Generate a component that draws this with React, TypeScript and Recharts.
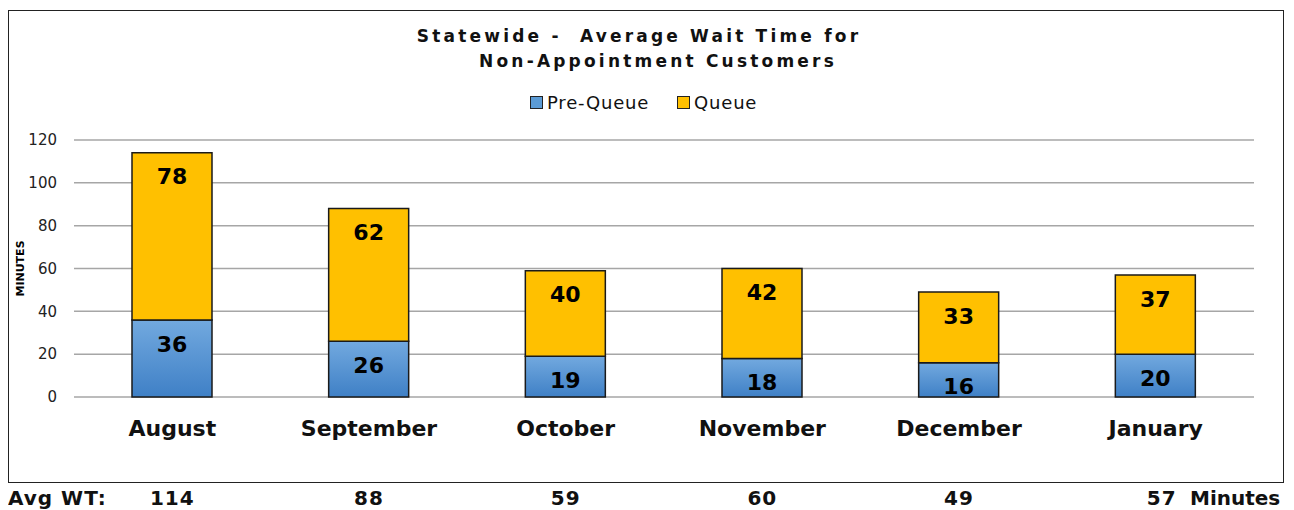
import { BarChart, Bar, XAxis, YAxis, CartesianGrid, LabelList } from 'recharts'

const months = ['August', 'September', 'October', 'November', 'December', 'January']
const preQueue = [36, 26, 19, 18, 16, 20]
const queue = [78, 62, 40, 42, 33, 37]
const yTicks = [0, 20, 40, 60, 80, 100, 120]

const FONT = '"DejaVu Sans", Verdana, sans-serif'

// chart geometry (page coords)
const BOX_LEFT = 8
const BOX_TOP = 10
const CHART_W = 1274
const CHART_H = 471
const PLOT_LEFT = 74
const PLOT_RIGHT = 1254
const AVG_TOP = 488

export default function App() {
    const chartData = months.map((m, i) => ({
        name: m,
        pre: preQueue[i],
        queue: queue[i],
        total: preQueue[i] + queue[i],
    }))
    const band = (PLOT_RIGHT - PLOT_LEFT) / months.length

    const labelStyle = { fontFamily: FONT, fontSize: 22, fontWeight: 'bold', fill: '#000' }
    const titleStyle = {
        position: 'absolute' as const,
        transform: 'translateX(-50%)',
        whiteSpace: 'pre' as const,
        fontFamily: FONT,
        fontWeight: 'bold',
        fontSize: 17,
        letterSpacing: 3.2,
        color: '#111',
    }
    const avgStyle = {
        position: 'absolute' as const,
        top: AVG_TOP,
        fontFamily: FONT,
        fontWeight: 'bold',
        fontSize: 20,
        lineHeight: '20px',
        color: '#111',
        whiteSpace: 'pre' as const,
    }

    return (
        <div style={{ position: 'relative', width: 1286, height: 510, marginTop: -8, marginLeft: -8 }}>
            <div
                style={{
                    position: 'absolute',
                    left: BOX_LEFT,
                    top: BOX_TOP,
                    width: CHART_W,
                    height: CHART_H,
                    border: '1.5px solid #222',
                    background: '#fff',
                }}
            >
                <BarChart
                    width={CHART_W}
                    height={CHART_H}
                    data={chartData}
                    margin={{ top: 129, right: 29, bottom: 0, left: 0 }}
                >
                    <defs>
                        <linearGradient id="blueGrad" x1="0" y1="0" x2="0" y2="1">
                            <stop offset="0%" stopColor="#72a9df" />
                            <stop offset="100%" stopColor="#3f80c6" />
                        </linearGradient>
                    </defs>
                    <CartesianGrid vertical={false} stroke="#a6a6a6" strokeWidth={1.5} />
                    <XAxis
                        dataKey="name"
                        height={85}
                        axisLine={false}
                        tickLine={false}
                        tickSize={0}
                        tickMargin={23}
                        tick={{ fontFamily: FONT, fontSize: 22, fontWeight: 'bold', fill: '#111' }}
                    />
                    <YAxis
                        width={65}
                        domain={[0, 120]}
                        ticks={yTicks}
                        axisLine={false}
                        tickLine={false}
                        tickSize={0}
                        tickMargin={17}
                        tick={{ fontFamily: FONT, fontSize: 15, fill: '#222' }}
                        label={{
                            value: 'MINUTES',
                            angle: -90,
                            position: 'insideLeft',
                            offset: 11,
                            style: { fontFamily: FONT, fontSize: 11, fontWeight: 'bold', fill: '#000', textAnchor: 'middle' },
                        }}
                    />
                    <Bar dataKey="pre" stackId="a" barSize={80} fill="url(#blueGrad)" stroke="#1a1a1a" strokeWidth={1.5} isAnimationActive={false}>
                        <LabelList dataKey="pre" position="insideTop" offset={16} style={labelStyle} />
                    </Bar>
                    <Bar dataKey="queue" stackId="a" barSize={80} fill="#ffc000" stroke="#1a1a1a" strokeWidth={1.5} isAnimationActive={false}>
                        <LabelList dataKey="queue" position="insideTop" offset={16} style={labelStyle} />
                    </Bar>
                </BarChart>

                {/* title */}
                <div style={{ ...titleStyle, left: 638 - BOX_LEFT, top: 15 }}>
                    {'Statewide -  Average Wait Time for'}
                </div>
                <div style={{ ...titleStyle, left: 657 - BOX_LEFT, top: 40 }}>
                    {'Non-Appointment Customers'}
                </div>

                {/* legend */}
                <div style={{ position: 'absolute', left: 529 - BOX_LEFT, top: 81, display: 'flex', alignItems: 'center', fontFamily: FONT, fontSize: 18, color: '#111' }}>
                    <span style={{ display: 'inline-block', width: 11, height: 11, background: '#5b9bd5', border: '1.5px solid #222', marginRight: 4 }} />
                    <span style={{ letterSpacing: 0.8 }}>Pre-Queue</span>
                    <span style={{ display: 'inline-block', width: 11, height: 11, background: '#ffc000', border: '1.5px solid #222', marginLeft: 28, marginRight: 4 }} />
                    <span style={{ letterSpacing: 0.8 }}>Queue</span>
                </div>
            </div>

            {/* average row below the box */}
            <div style={{ ...avgStyle, left: 8, letterSpacing: 1 }}>Avg WT:</div>
            {chartData.map((d, i) => (
                <div
                    key={d.name}
                    style={{
                        ...avgStyle,
                        left: PLOT_LEFT + (i + 0.5) * band + (i === months.length - 1 ? 6 : 0),
                        transform: 'translateX(-50%)',
                        letterSpacing: 1,
                    }}
                >
                    {d.total}
                </div>
            ))}
            <div style={{ ...avgStyle, left: 1190 }}>Minutes</div>
        </div>
    )
}
